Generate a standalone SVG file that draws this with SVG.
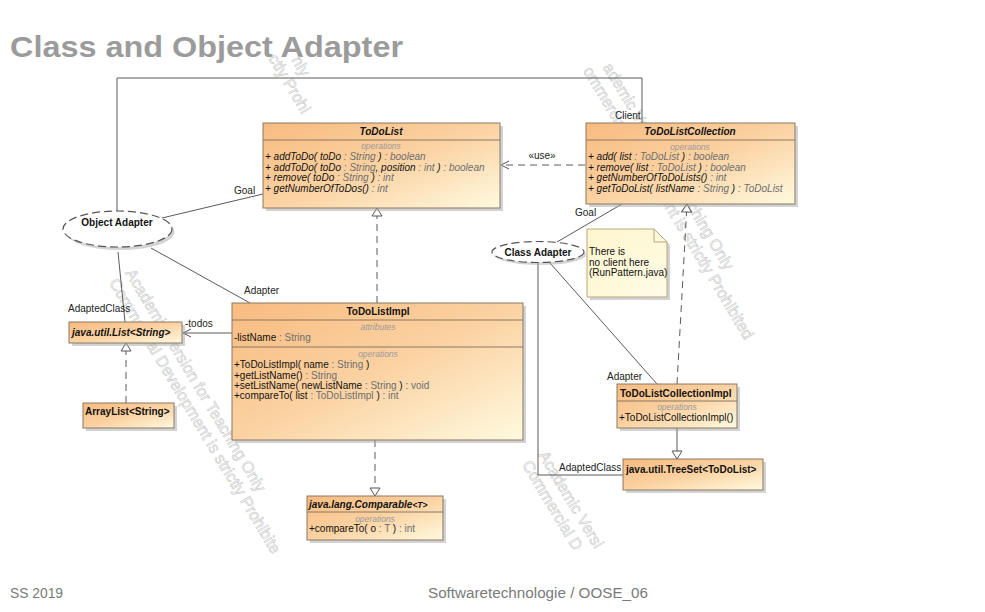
<svg xmlns="http://www.w3.org/2000/svg" width="985" height="612" viewBox="0 0 985 612">
<style>
.t{font-family:'Liberation Sans',Arial,sans-serif;font-size:10px;fill:#111}
.b{font-weight:bold}
.i{font-style:italic}
.c{text-anchor:middle}
.sec{font-family:'Liberation Sans',Arial,sans-serif;font-size:8.5px;font-style:italic;fill:#9a9a9a;text-anchor:middle}
.ty{fill:#6e6e6e}
.box{fill:url(#g);stroke:#8a7864;stroke-width:1}
.sep{stroke:#8a7864;stroke-width:1}
.sh{fill:#a8a8a8;opacity:0.5}
.ln{stroke:#5a5a5a;stroke-width:1;fill:none}
.dash{stroke-dasharray:7,5}
.ell{fill:#fff;stroke:#555;stroke-width:1.2;stroke-dasharray:8,4}
.note{fill:url(#gn);stroke:#b5a77e;stroke-width:1}
.wm{font-family:'Liberation Sans',Arial,sans-serif;font-size:16px;fill:#f6f6f6;stroke:#c9c9c9;stroke-width:0.55}
.lbl{font-family:'Liberation Sans',Arial,sans-serif;font-size:10px;fill:#222}
</style>
<defs>
<linearGradient id="g" x1="0" y1="0" x2="1" y2="1">
<stop offset="0" stop-color="#f8bb80"/>
<stop offset="0.5" stop-color="#fbd2a2"/>
<stop offset="1" stop-color="#fffadf"/>
</linearGradient>
<linearGradient id="gn" x1="0" y1="0" x2="1" y2="1">
<stop offset="0" stop-color="#fff6cc"/>
<stop offset="1" stop-color="#fffbe6"/>
</linearGradient>
<marker id="tri" viewBox="0 0 8 10" refX="8" refY="5" markerWidth="8" markerHeight="10" markerUnits="userSpaceOnUse" orient="auto" overflow="visible">
<path d="M0,0 L8,5 L0,10 Z" fill="#fff" stroke="#555" stroke-width="1" stroke-dasharray="none"/>
</marker>
<marker id="open" viewBox="0 0 8 8" refX="8" refY="4" markerWidth="8" markerHeight="8" markerUnits="userSpaceOnUse" orient="auto" overflow="visible">
<path d="M0,0 L8,4 L0,8" fill="none" stroke="#555" stroke-width="1" stroke-dasharray="none"/>
</marker>
</defs>
<rect width="985" height="612" fill="#fff"/>
<text x="10" y="57" font-family="'Liberation Sans',Arial,sans-serif" font-weight="bold" font-size="30" fill="#9b9b9b" textLength="393" lengthAdjust="spacingAndGlyphs">Class and Object Adapter</text>
<g id="watermark" class="wm">
<g transform="translate(125,273) rotate(59)"><text x="0" y="0">Academic Version for Teaching Only</text><text x="0" y="19">Commercial Development is strictly Prohibite</text></g>
<g transform="translate(593,51) rotate(59)"><text x="18.7" y="0">ademic Version for Teaching Only</text><text x="11.6" y="19">ommercial Development is strictly Prohibited</text></g>
<g transform="translate(168,-145) rotate(59)"><text x="239.2" y="0">nly</text><text x="225.8" y="19">ctly Prohi</text></g>
<g transform="translate(538,455) rotate(59)"><text x="0" y="0">Academic Versi</text><text x="0" y="19">Commercial D</text></g>
</g>
<g id="connectors">
<path class="ln" d="M117,211 V78 H642 V123"/>
<text class="lbl" x="615" y="119">Client</text>
<path class="ln" d="M162,218 L263,194"/>
<text class="lbl" x="234" y="194">Goal</text>
<path class="ln" d="M151,248 L250,303"/>
<text class="lbl" x="244" y="294">Adapter</text>
<path class="ln" d="M118,252 L125,322"/>
<text class="lbl" x="68" y="312">AdaptedClass</text>
<path class="ln" d="M232,333 H183" marker-end="url(#open)"/>
<text class="lbl" x="185" y="327">-todos</text>
<path class="ln dash" d="M126,403 V343" marker-end="url(#tri)"/>
<path class="ln dash" d="M377,303 V208" marker-end="url(#tri)"/>
<path class="ln dash" d="M375,440 V496" marker-end="url(#tri)"/>
<path class="ln dash" d="M585,165 H501" marker-end="url(#open)"/>
<text class="lbl" x="542" y="159" text-anchor="middle">«use»</text>
<path class="ln" d="M557,242 L622,204"/>
<text class="lbl" x="575" y="216">Goal</text>
<path class="ln" d="M550,263 L657,384"/>
<text class="lbl" x="607" y="380">Adapter</text>
<path class="ln" d="M538,263 V475 H623"/>
<text class="lbl" x="559" y="471">AdaptedClass</text>
<path class="ln" d="M677,428 V459" marker-end="url(#tri)"/>
<path class="ln dash" d="M677,384 L687,204" marker-end="url(#tri)"/>
</g>
<g id="ObjectAdapter">
<ellipse cx="120" cy="232" rx="54.5" ry="18" class="sh"/>
<ellipse cx="117.5" cy="229" rx="54.5" ry="18" class="ell"/>
<text class="t b c" x="117" y="226">Object Adapter</text>
</g>
<g id="ClassAdapter">
<ellipse cx="540" cy="254.5" rx="46" ry="10.5" class="sh"/>
<ellipse cx="538" cy="252" rx="46" ry="10.5" class="ell"/>
<text class="t b c" x="538" y="256">Class Adapter</text>
</g>
<g id="ToDoList">
<rect x="266" y="126" width="237" height="85" class="sh"/>
<rect x="263" y="123" width="237" height="85" class="box"/>
<line x1="263" y1="140" x2="500" y2="140" class="sep"/>
<text class="t b i c" x="381" y="135">ToDoList</text>
<text class="sec" x="381" y="149">operations</text>
<text class="t i" x="265" y="160">+ addToDo( toDo <tspan class="ty">: String</tspan> ) <tspan class="ty">: boolean</tspan></text>
<text class="t i" x="265" y="170.5">+ addToDo( toDo <tspan class="ty">: String</tspan>, position <tspan class="ty">: int</tspan> ) <tspan class="ty">: boolean</tspan></text>
<text class="t i" x="265" y="181">+ remove( toDo <tspan class="ty">: String</tspan> ) <tspan class="ty">: int</tspan></text>
<text class="t i" x="265" y="191.5">+ getNumberOfToDos() <tspan class="ty">: int</tspan></text>
</g>
<g id="ToDoListCollection">
<rect x="589" y="126" width="209" height="81" class="sh"/>
<rect x="586" y="123" width="209" height="81" class="box"/>
<line x1="586" y1="140" x2="795" y2="140" class="sep"/>
<text class="t b i c" x="690" y="135">ToDoListCollection</text>
<text class="sec" x="690" y="149.5">operations</text>
<text class="t i" x="588" y="160">+ add( list <tspan class="ty">: ToDoList</tspan> ) <tspan class="ty">: boolean</tspan></text>
<text class="t i" x="588" y="170.5">+ remove( list <tspan class="ty">: ToDoList</tspan> ) <tspan class="ty">: boolean</tspan></text>
<text class="t i" x="588" y="181">+ getNumberOfToDoLists() <tspan class="ty">: int</tspan></text>
<text class="t i" x="588" y="191.5">+ getToDoList( listName <tspan class="ty">: String</tspan> ) <tspan class="ty">: ToDoList</tspan></text>
</g>
<g id="Note">
<path d="M590,232 H657 L670,245 V300 H590 Z" class="sh"/>
<path d="M587,229 H654 L667,242 V297 H587 Z" class="note"/>
<path d="M654,229 V242 H667" fill="none" stroke="#b5a77e" stroke-width="1"/>
<text class="t" x="589" y="255">There is</text>
<text class="t" x="589" y="265.5">no client here</text>
<text class="t" x="589" y="276">(RunPattern.java)</text>
</g>
<g id="ListString">
<rect x="72" y="325" width="113" height="21" class="sh"/>
<rect x="69" y="322" width="113" height="21" class="box"/>
<text class="t b i" x="72" y="336">java.util.List&lt;String&gt;</text>
</g>
<g id="ArrayListString">
<rect x="86" y="406" width="91" height="25" class="sh"/>
<rect x="83" y="403" width="91" height="25" class="box"/>
<text class="t b" x="85" y="415">ArrayList&lt;String&gt;</text>
</g>
<g id="ToDoListImpl">
<rect x="235" y="306" width="291" height="137" class="sh"/>
<rect x="232" y="303" width="291" height="137" class="box"/>
<line x1="232" y1="320" x2="523" y2="320" class="sep"/>
<line x1="232" y1="347" x2="523" y2="347" class="sep"/>
<text class="t b c" x="378" y="315">ToDoListImpl</text>
<text class="sec" x="378" y="330">attributes</text>
<text class="t" x="234" y="341">-listName <tspan class="ty">: String</tspan></text>
<text class="sec" x="378" y="357">operations</text>
<text class="t" x="234" y="368">+ToDoListImpl( name <tspan class="ty">: String</tspan> )</text>
<text class="t" x="234" y="378.5">+getListName() <tspan class="ty">: String</tspan></text>
<text class="t" x="234" y="388.5">+setListName( newListName <tspan class="ty">: String</tspan> ) <tspan class="ty">: void</tspan></text>
<text class="t" x="234" y="398.5">+compareTo( list <tspan class="ty">: ToDoListImpl</tspan> ) <tspan class="ty">: int</tspan></text>
</g>
<g id="Comparable">
<rect x="310" y="499" width="136" height="44" class="sh"/>
<rect x="307" y="496" width="136" height="44" class="box"/>
<line x1="307" y1="512" x2="443" y2="512" class="sep"/>
<text class="t b i" x="309" y="508">java.lang.Comparable<tspan font-size="8.5">&lt;T&gt;</tspan></text>
<text class="sec" x="375" y="522">operations</text>
<text class="t" x="309" y="532">+compareTo( o <tspan class="ty">: T</tspan> ) <tspan class="ty">: int</tspan></text>
</g>
<g id="ToDoListCollectionImpl">
<rect x="620" y="387" width="120" height="44" class="sh"/>
<rect x="617" y="384" width="120" height="44" class="box"/>
<line x1="617" y1="401" x2="737" y2="401" class="sep"/>
<text class="t b" x="620" y="397">ToDoListCollectionImpl</text>
<text class="sec" x="677" y="410">operations</text>
<text class="t" x="619" y="421">+ToDoListCollectionImpl()</text>
</g>
<g id="TreeSet">
<rect x="626" y="462" width="140" height="31" class="sh"/>
<rect x="623" y="459" width="140" height="31" class="box"/>
<text class="t b" x="626" y="473">java.util.TreeSet&lt;ToDoList&gt;</text>
</g>
<text x="10" y="598" font-family="'Liberation Sans',Arial,sans-serif" font-size="14" fill="#7a7a7a" textLength="53" lengthAdjust="spacingAndGlyphs">SS 2019</text>
<text x="428" y="598" font-family="'Liberation Sans',Arial,sans-serif" font-size="14" fill="#7a7a7a" textLength="220" lengthAdjust="spacingAndGlyphs">Softwaretechnologie / OOSE_06</text>
</svg>
